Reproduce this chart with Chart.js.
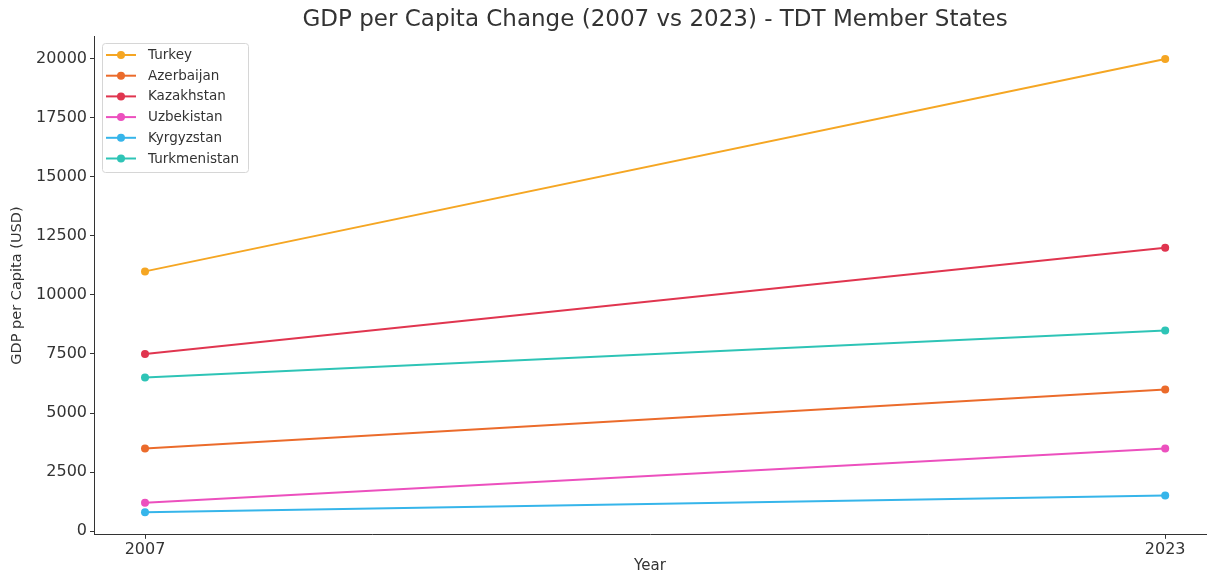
<!DOCTYPE html>
<html>
<head>
<meta charset="utf-8">
<script src="https://cdn.jsdelivr.net/npm/chart.js@4.4.1/dist/chart.umd.min.js"></script>
<style>
  html, body { margin: 0; padding: 0; background: #ffffff; }
  #wrap { width: 1210px; height: 576px; }
</style>
</head>
<body>
<div id="wrap"><canvas id="c" width="1210" height="576"></canvas></div>
<script>
const years = [2007, 2023];
const countries = ["Turkey", "Azerbaijan", "Kazakhstan", "Uzbekistan", "Kyrgyzstan", "Turkmenistan"];
const turkey = [11000, 20000];
const azerbaijan = [3500, 6000];
const kazakhstan = [7500, 12000];
const uzbekistan = [1200, 3500];
const kyrgyzstan = [800, 1500];
const turkmenistan = [6500, 8500];
const seriesValues = [turkey, azerbaijan, kazakhstan, uzbekistan, kyrgyzstan, turkmenistan];
const colors = ["#F5A623", "#EB6B2B", "#E0354F", "#EC50BE", "#36B5EA", "#2EC4B6"];
const yTickValues = [0, 2500, 5000, 7500, 10000, 12500, 15000, 17500, 20000];
const xTickValues = [2007, 2023];
const titleText = 'GDP per Capita Change (2007 vs 2023) - TDT Member States';

const FONT = "'DejaVu Sans', sans-serif";
const TXT = "#333333";

const datasets = countries.map((name, i) => ({
  label: name,
  data: years.map((yr, j) => ({ x: yr, y: seriesValues[i][j] })),
  borderColor: colors[i],
  backgroundColor: colors[i],
  borderWidth: 2,
  pointRadius: 4,
  pointHoverRadius: 4,
  pointBorderWidth: 0,
  tension: 0
}));

const axesTitle = {
  id: 'axesTitle',
  afterDraw(chart) {
    const ctx = chart.ctx;
    const xs = chart.scales.x;
    const cx = xs.getPixelForValue((years[0] + years[years.length - 1]) / 2);
    ctx.save();
    ctx.font = "23px " + FONT;
    ctx.fillStyle = TXT;
    ctx.textAlign = 'center';
    ctx.textBaseline = 'middle';
    ctx.fillText(titleText, cx, 20);
    ctx.restore();
  }
};

const insideLegend = {
  id: 'insideLegend',
  afterDraw(chart) {
    const ctx = chart.ctx;
    const x0 = 102, y0 = 43, w = 146, h = 129;
    ctx.save();
    ctx.fillStyle = 'rgba(255,255,255,0.85)';
    ctx.strokeStyle = '#d6d6d6';
    ctx.lineWidth = 1;
    ctx.beginPath();
    if (ctx.roundRect) ctx.roundRect(x0 + 0.5, y0 + 0.5, w, h, 3); else ctx.rect(x0 + 0.5, y0 + 0.5, w, h);
    ctx.fill();
    ctx.stroke();
    ctx.font = "13.5px " + FONT;
    ctx.textBaseline = 'middle';
    ctx.textAlign = 'left';
    chart.data.datasets.forEach((ds, i) => {
      const yy = 55 + i * 20.7;
      ctx.strokeStyle = ds.borderColor;
      ctx.lineWidth = 2;
      ctx.beginPath();
      ctx.moveTo(106, yy);
      ctx.lineTo(136, yy);
      ctx.stroke();
      ctx.fillStyle = ds.borderColor;
      ctx.beginPath();
      ctx.arc(121, yy, 4, 0, Math.PI * 2);
      ctx.fill();
      ctx.fillStyle = TXT;
      ctx.fillText(ds.label, 148, yy + 0.5);
    });
    ctx.restore();
  }
};

new Chart(document.getElementById('c'), {
  type: 'line',
  data: { datasets },
  plugins: [axesTitle, insideLegend],
  options: {
    responsive: false,
    animation: false,
    layout: { padding: { left: 0, right: 1, top: 36.3, bottom: 0 } },
    plugins: {
      legend: { display: false },
      tooltip: { enabled: false },
      title: { display: false }
    },
    scales: {
      x: {
        type: 'linear',
        min: 2006.2,
        max: 2023.64,
        afterBuildTicks(scale) { scale.ticks = xTickValues.map(v => ({ value: v })); },
        afterFit(scale) { scale.height = 41.2; },
        ticks: {
          color: TXT,
          font: { family: FONT, size: 16 },
          padding: 1,
          maxRotation: 0,
          autoSkip: false,
          callback: (v) => String(v)
        },
        grid: { drawOnChartArea: false, drawTicks: true, tickLength: 4, color: '#333333', lineWidth: 1 },
        border: { display: true, color: '#333333', width: 1 },
        title: {
          display: true,
          text: 'Year',
          color: TXT,
          font: { family: FONT, size: 15 },
          padding: { top: 0, bottom: 1 }
        }
      },
      y: {
        type: 'linear',
        min: -160,
        max: 20960,
        afterBuildTicks(scale) { scale.ticks = yTickValues.map(v => ({ value: v })); },
        afterFit(scale) { scale.width = 94; },
        ticks: {
          color: TXT,
          font: { family: FONT, size: 16 },
          padding: 3,
          autoSkip: false,
          callback: (v) => String(v)
        },
        grid: { drawOnChartArea: false, drawTicks: true, tickLength: 4, color: '#333333', lineWidth: 1 },
        border: { display: true, color: '#333333', width: 1 },
        title: {
          display: true,
          text: 'GDP per Capita (USD)',
          color: TXT,
          font: { family: FONT, size: 14.5 },
          padding: { top: 9, bottom: 0 }
        }
      }
    }
  }
});
</script>
</body>
</html>
